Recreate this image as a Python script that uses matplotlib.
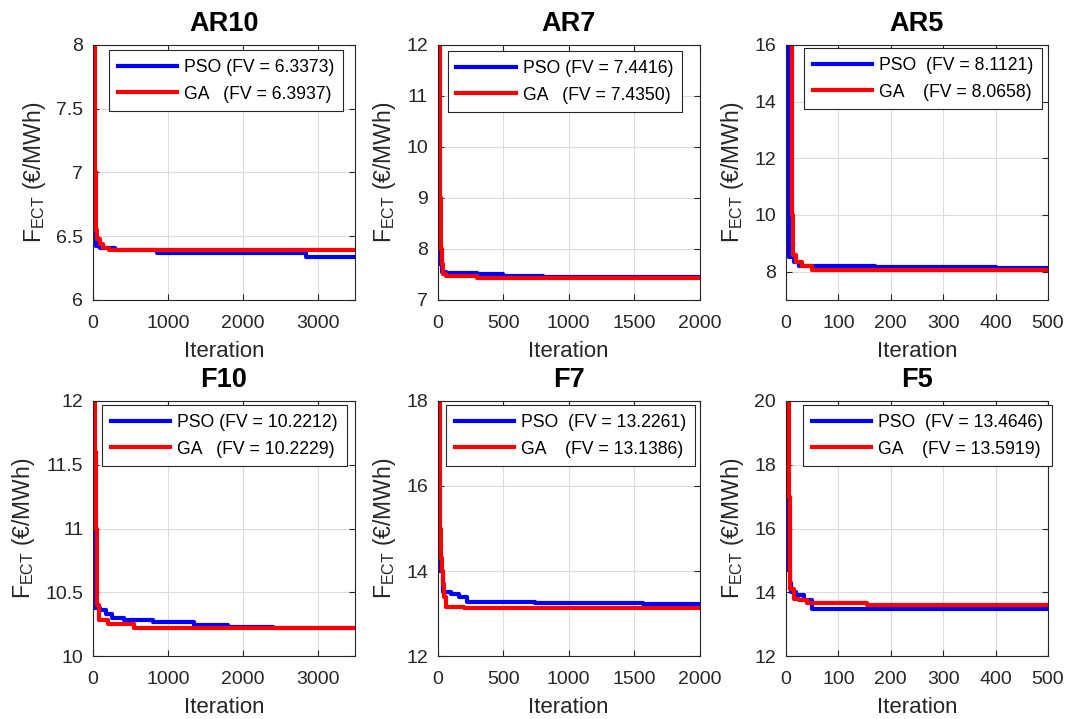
import matplotlib
matplotlib.use("Agg")
import matplotlib.pyplot as plt
from matplotlib.ticker import FormatStrFormatter

plt.rcParams['font.family'] = ['Liberation Sans', 'DejaVu Sans']
plt.rcParams['mathtext.fontset'] = 'custom'
plt.rcParams['mathtext.rm'] = 'Liberation Sans'
plt.rcParams['mathtext.it'] = 'Liberation Sans'

# panel titles and axis ranges
titles = ['AR10', 'AR7', 'AR5', 'F10', 'F7', 'F5']
x_max = [3500, 2000, 500, 3500, 2000, 500]
y_lims = [(6, 8), (7, 12), (7, 16), (10, 12), (12, 18), (12, 20)]
y_ticks = [[6, 6.5, 7, 7.5, 8], [7, 8, 9, 10, 11, 12], [8, 10, 12, 14, 16],
           [10, 10.5, 11, 11.5, 12], [12, 14, 16, 18], [12, 14, 16, 18, 20]]
x_ticks = [[0, 1000, 2000, 3000], [0, 500, 1000, 1500, 2000], [0, 100, 200, 300, 400, 500],
           [0, 1000, 2000, 3000], [0, 500, 1000, 1500, 2000], [0, 100, 200, 300, 400, 500]]

# final values shown in legends
pso_fv = ['6.3373', '7.4416', '8.1121', '10.2212', '13.2261', '13.4646']
ga_fv = ['6.3937', '7.4350', '8.0658', '10.2229', '13.1386', '13.5919']
pso_lbl = ['PSO (FV = {})', 'PSO (FV = {})', 'PSO  (FV = {})', 'PSO (FV = {})', 'PSO  (FV = {})', 'PSO  (FV = {})']
ga_lbl = ['GA   (FV = {})', 'GA   (FV = {})', 'GA    (FV = {})', 'GA   (FV = {})', 'GA    (FV = {})', 'GA    (FV = {})']

# convergence curves (iteration, best value)
ar10_pso_it = [1, 5, 15, 40, 90, 300, 850, 2850, 3500]
ar10_pso_y = [6.78, 6.6, 6.5, 6.42, 6.41, 6.39, 6.37, 6.3373, 6.3373]
ar10_ga_it = [1, 22, 28, 35, 45, 60, 90, 140, 220, 3500]
ar10_ga_y = [8.5, 7.6, 7.0, 6.7, 6.55, 6.48, 6.44, 6.41, 6.3937, 6.3937]

ar7_pso_it = [1, 5, 15, 30, 60, 300, 500, 800, 2000]
ar7_pso_y = [8.1, 7.9, 7.7, 7.55, 7.52, 7.5, 7.47, 7.4416, 7.4416]
ar7_ga_it = [1, 18, 21, 24, 30, 40, 60, 300, 2000]
ar7_ga_y = [12.5, 10.5, 9.0, 8.0, 7.7, 7.5, 7.47, 7.435, 7.435]

ar5_pso_it = [1, 4, 5, 6, 15, 25, 170, 400, 500]
ar5_pso_y = [16.5, 13.0, 10.0, 8.5, 8.35, 8.2, 8.16, 8.1121, 8.1121]
ar5_ga_it = [1, 11, 12, 13, 20, 30, 50, 500]
ar5_ga_y = [16.5, 13.0, 10.0, 8.6, 8.35, 8.2, 8.0658, 8.0658]

f10_pso_it = [1, 5, 10, 20, 30, 100, 180, 250, 420, 800, 1350, 1800, 2400, 3500]
f10_pso_y = [11.4, 11.0, 10.8, 10.55, 10.38, 10.36, 10.33, 10.3, 10.28, 10.27, 10.24, 10.23, 10.2212, 10.2212]
f10_ga_it = [1, 30, 40, 50, 60, 75, 200, 550, 3500]
f10_ga_y = [12.5, 11.6, 11.0, 10.6, 10.4, 10.28, 10.25, 10.2229, 10.2229]

f7_pso_it = [1, 4, 8, 15, 40, 100, 160, 220, 740, 1570, 2000]
f7_pso_y = [15.3, 14.8, 14.3, 14.0, 13.5, 13.45, 13.4, 13.27, 13.25, 13.2261, 13.2261]
f7_ga_it = [1, 18, 22, 30, 40, 50, 60, 200, 2000]
f7_ga_y = [18.5, 15.0, 14.3, 14.0, 13.7, 13.4, 13.16, 13.1386, 13.1386]

f5_pso_it = [1, 3, 4, 7, 10, 20, 35, 50, 500]
f5_pso_y = [20.5, 17.0, 14.7, 14.3, 14.0, 13.9, 13.75, 13.4646, 13.4646]
f5_ga_it = [1, 6, 7, 8, 15, 25, 40, 155, 500]
f5_ga_y = [20.5, 17.0, 15.0, 14.1, 13.8, 13.75, 13.65, 13.5919, 13.5919]

pso_it = [ar10_pso_it, ar7_pso_it, ar5_pso_it, f10_pso_it, f7_pso_it, f5_pso_it]
pso_y = [ar10_pso_y, ar7_pso_y, ar5_pso_y, f10_pso_y, f7_pso_y, f5_pso_y]
ga_it = [ar10_ga_it, ar7_ga_it, ar5_ga_it, f10_ga_it, f7_ga_it, f5_ga_it]
ga_y = [ar10_ga_y, ar7_ga_y, ar5_ga_y, f10_ga_y, f7_ga_y, f5_ga_y]

# legend anchor (upper right corner, axes fraction) per panel
leg_anchor = [(0.954, 0.980), (0.932, 0.976), (0.977, 0.988),
              (0.969, 0.984), (0.981, 0.984), (1.015, 0.984)]

fig = plt.figure(figsize=(10.65, 7.19), dpi=100)

lefts = [0.0873, 0.411, 0.738]
bottoms = [0.5828, 0.0876]
w, h = 0.246, 0.3547

for i in range(6):
    ax = fig.add_axes([lefts[i % 3], bottoms[i // 3], w, h])
    ax.plot(pso_it[i], pso_y[i], color='#0000ff', lw=3, drawstyle='steps-post',
            label=pso_lbl[i].format(pso_fv[i]))
    ax.plot(ga_it[i], ga_y[i], color='#ff0000', lw=3, drawstyle='steps-post',
            label=ga_lbl[i].format(ga_fv[i]))
    ax.set_xlim(0, x_max[i])
    ax.set_ylim(*y_lims[i])
    ax.set_xticks(x_ticks[i])
    ax.set_yticks(y_ticks[i])
    ax.yaxis.set_major_formatter(FormatStrFormatter('%g'))
    ax.grid(True, color='#dcdcdc', lw=0.8)
    ax.tick_params(direction='in', top=True, right=True, labelsize=14,
                   colors='#262626', length=4)
    ax.tick_params(axis='x', pad=11)
    ax.tick_params(axis='y', pad=7)
    for s in ax.spines.values():
        s.set_color('#262626')
        s.set_linewidth(0.8)
    ax.set_title(titles[i], fontsize=19.5, fontweight='bold', pad=10)
    ax.set_xlabel('Iteration', fontsize=16, color='#262626', labelpad=6)
    ax.set_ylabel(r'F$_{\mathrm{ECT}}$ (€/MWh)', fontsize=16.5, color='#262626', labelpad=6)
    leg = ax.legend(loc='upper right', bbox_to_anchor=leg_anchor[i], borderaxespad=0,
                    fontsize=12.7, handlelength=3.35, handletextpad=0.4, fancybox=False,
                    framealpha=1, edgecolor='#262626', labelspacing=0.55, borderpad=0.5)
    leg.get_frame().set_linewidth(0.8)

fig.savefig('out.png', dpi=100)
